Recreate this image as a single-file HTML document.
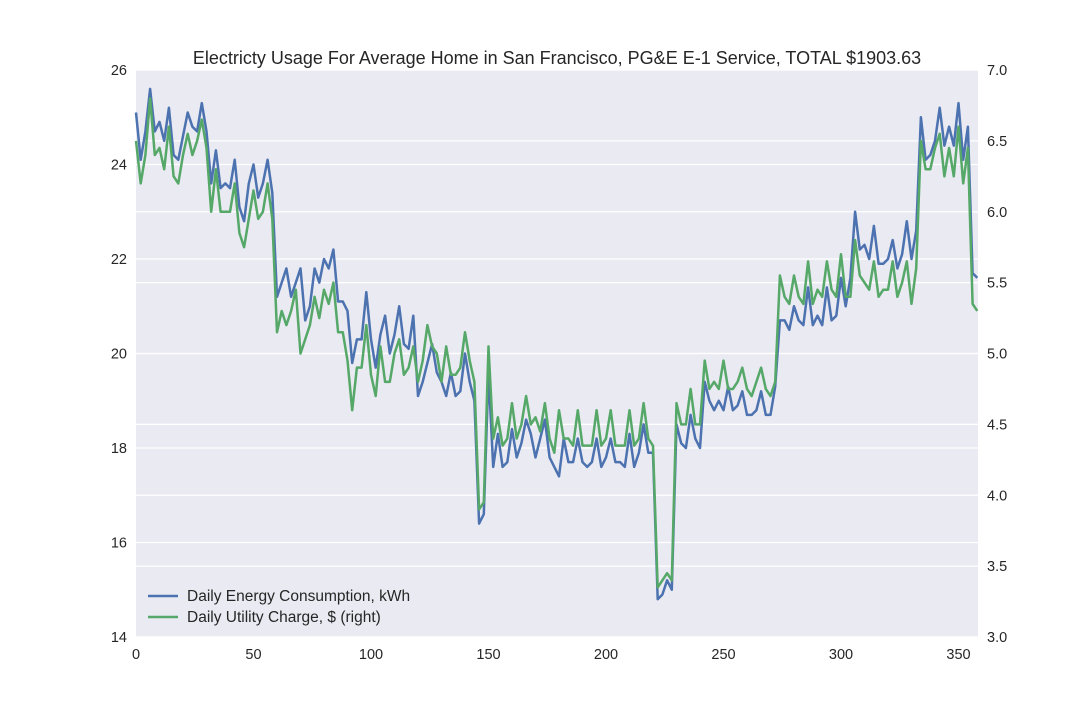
<!DOCTYPE html>
<html><head><meta charset="utf-8"><style>
body{margin:0;background:#fff;font-family:"Liberation Sans",sans-serif;}
svg text{font-family:"Liberation Sans",sans-serif;fill:#262626;}
</style></head><body>
<svg id="chart" width="1086" height="708" xmlns="http://www.w3.org/2000/svg">
<rect x="136" y="70" width="842" height="567" fill="#eaeaf2"/>
<g id="grid"></g><g id="series"></g><g id="axes"></g>
<text x="557" y="64" text-anchor="middle" font-size="18">Electricty Usage For Average Home in San Francisco, PG&amp;E E-1 Service, TOTAL $1903.63</text>
<g>
<line x1="148" y1="596" x2="178" y2="596" stroke="#4c72b0" stroke-width="2.5"/>
<text x="187" y="601" font-size="15.5">Daily Energy Consumption, kWh</text>
<line x1="148" y1="617" x2="178" y2="617" stroke="#55a868" stroke-width="2.5"/>
<text x="187" y="622" font-size="15.5">Daily Utility Charge, $ (right)</text>
</g>
</svg>
<script>
const kwh=[25.1,24.1,24.7,25.6,24.7,24.9,24.5,25.2,24.2,24.1,24.6,25.1,24.8,24.7,25.3,24.7,23.6,24.3,23.5,23.6,23.5,24.1,23.1,22.8,23.6,24.0,23.3,23.6,24.1,23.4,21.2,21.5,21.8,21.2,21.5,21.8,20.7,21.0,21.8,21.5,22.0,21.8,22.2,21.1,21.1,20.9,19.8,20.3,20.3,21.3,20.3,19.7,20.4,20.8,20.0,20.4,21.0,20.2,20.1,20.8,19.1,19.4,19.8,20.2,19.6,19.4,19.1,19.6,19.1,19.2,20.0,19.4,19.0,16.4,16.6,19.6,17.6,18.3,17.6,17.7,18.4,17.8,18.1,18.6,18.3,17.8,18.2,18.6,17.8,17.6,17.4,18.2,17.7,17.7,18.2,17.7,17.6,17.7,18.2,17.6,17.8,18.2,17.7,17.7,17.6,18.3,17.6,17.9,18.5,17.9,17.9,14.8,14.9,15.2,15.0,18.5,18.1,18.0,18.7,18.2,18.0,19.4,19.0,18.8,19.0,18.8,19.3,18.8,18.9,19.2,18.7,18.7,18.8,19.2,18.7,18.7,19.3,20.7,20.7,20.5,21.0,20.7,20.6,21.4,20.6,20.8,20.6,21.4,20.7,20.8,21.6,21.0,21.6,23.0,22.2,22.3,22.0,22.7,21.9,21.9,22.0,22.4,21.8,22.1,22.8,22.0,22.6,25.0,24.1,24.2,24.5,25.2,24.4,24.8,24.4,25.3,24.1,24.8,21.7,21.6];
const charge=[6.5,6.2,6.4,6.8,6.4,6.45,6.3,6.6,6.25,6.2,6.4,6.55,6.4,6.5,6.65,6.45,6.0,6.3,6.0,6.0,6.0,6.2,5.85,5.75,5.95,6.15,5.95,6.0,6.2,5.95,5.15,5.3,5.2,5.3,5.45,5.0,5.1,5.2,5.4,5.25,5.45,5.35,5.5,5.15,5.15,4.95,4.6,4.9,4.9,5.2,4.85,4.7,5.05,4.8,4.8,5.0,5.1,4.85,4.9,5.05,4.8,4.95,5.2,5.05,5.0,4.8,5.05,4.85,4.85,4.9,5.15,4.95,4.8,3.9,3.95,5.05,4.4,4.55,4.35,4.4,4.65,4.4,4.5,4.7,4.5,4.55,4.45,4.65,4.4,4.3,4.6,4.4,4.4,4.35,4.6,4.35,4.35,4.35,4.6,4.35,4.4,4.6,4.35,4.35,4.35,4.6,4.35,4.4,4.65,4.4,4.35,3.35,3.4,3.45,3.4,4.65,4.5,4.5,4.75,4.5,4.5,4.95,4.75,4.8,4.75,4.95,4.75,4.75,4.8,4.9,4.75,4.7,4.8,4.9,4.75,4.7,4.8,5.55,5.4,5.35,5.55,5.4,5.35,5.65,5.35,5.45,5.4,5.65,5.45,5.4,5.7,5.4,5.4,5.8,5.55,5.5,5.45,5.65,5.4,5.45,5.45,5.65,5.4,5.5,5.65,5.35,5.6,6.5,6.3,6.3,6.45,6.55,6.25,6.45,6.25,6.6,6.2,6.45,5.35,5.3];
const dayStep=2;
const xTicks=[0,50,100,150,200,250,300,350];
const leftTicks=[14,16,18,20,22,24,26];
const rightTicks=[3.0,3.5,4.0,4.5,5.0,5.5,6.0,6.5,7.0];
const X0=136,X1=978,Y0=70,Y1=637,XMAX=358.3;
const xs=d=>X0+(d/XMAX)*(X1-X0);
const yL=v=>Y1-(v-14)/(26-14)*(Y1-Y0);
const yR=v=>Y1-(v-3)/(7-3)*(Y1-Y0);
const NS="http://www.w3.org/2000/svg";
const grid=document.getElementById('grid'),axes=document.getElementById('axes'),ser=document.getElementById('series');
function mk(tag,attrs,parent){const e=document.createElementNS(NS,tag);for(const k in attrs)e.setAttribute(k,attrs[k]);parent.appendChild(e);return e;}
leftTicks.forEach(t=>{
 const g=mk('line',{x1:X0,x2:X1,y1:yL(t),y2:yL(t),stroke:'#fff','stroke-width':1.2},grid);
 
 
 const tx=mk('text',{x:X0-9,y:yL(t)+5,'text-anchor':'end','font-size':14.5},axes);tx.textContent=t;
 
 
});
rightTicks.forEach(t=>{
 const g=mk('line',{x1:X0,x2:X1,y1:yR(t),y2:yR(t),stroke:'#fff','stroke-width':1.2},grid);
 
 
 const tx=mk('text',{x:X1+9,y:yR(t)+5,'text-anchor':'start','font-size':14.5},axes);tx.textContent=t.toFixed(1);
 
 
});
xTicks.forEach(t=>{
 const tx=mk('text',{x:xs(t),y:Y1+22,'text-anchor':'middle','font-size':14.5},axes);tx.textContent=t;
 
 
});
const p1=mk('polyline',{points:kwh.map((v,i)=>xs(i*dayStep)+','+yL(v)).join(' '),fill:'none',stroke:'#4c72b0','stroke-width':2.5,'stroke-linejoin':'round'},ser);


const p2=mk('polyline',{points:charge.map((v,i)=>xs(i*dayStep)+','+yR(v)).join(' '),fill:'none',stroke:'#55a868','stroke-width':2.5,'stroke-linejoin':'round'},ser);


</script>
</body></html>
